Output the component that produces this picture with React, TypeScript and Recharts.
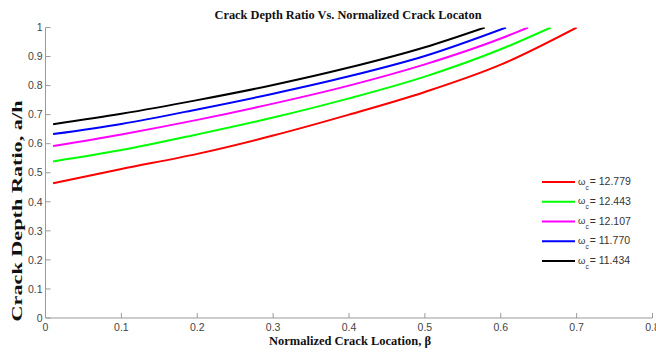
import React from 'react';
import { LineChart, Line, XAxis, YAxis, Legend } from 'recharts';

const xTicks = [0, 0.1, 0.2, 0.3, 0.4, 0.5, 0.6, 0.7, 0.8];
const yTicks = [0, 0.1, 0.2, 0.3, 0.4, 0.5, 0.6, 0.7, 0.8, 0.9, 1];

const omegaLabels = ['12.779', '12.443', '12.107', '11.770', '11.434'];
const seriesColors = ['#ff0000', '#00ff00', '#ff00ff', '#0000ff', '#000000'];

const betaRed = [0.01, 0.1, 0.2, 0.3, 0.4, 0.5, 0.6, 0.7];
const depthRed = [0.464, 0.513, 0.565, 0.628, 0.7, 0.778, 0.872, 1.0];

const betaGreen = [0.01, 0.1, 0.2, 0.3, 0.4, 0.5, 0.6, 0.666];
const depthGreen = [0.539, 0.578, 0.632, 0.69, 0.756, 0.831, 0.925, 1.0];

const betaMagenta = [0.01, 0.1, 0.2, 0.3, 0.4, 0.5, 0.6, 0.636];
const depthMagenta = [0.592, 0.632, 0.682, 0.738, 0.8, 0.873, 0.962, 1.0];

const betaBlue = [0.01, 0.1, 0.2, 0.3, 0.4, 0.5, 0.607];
const depthBlue = [0.633, 0.668, 0.718, 0.772, 0.832, 0.902, 1.0];

const betaBlack = [0.01, 0.1, 0.2, 0.3, 0.4, 0.5, 0.579];
const depthBlack = [0.667, 0.703, 0.75, 0.802, 0.862, 0.932, 1.0];

const zip = (xs: number[], ys: number[]) => xs.map((x, i) => ({ x, y: ys[i] }));

const series = [
  zip(betaRed, depthRed),
  zip(betaGreen, depthGreen),
  zip(betaMagenta, depthMagenta),
  zip(betaBlue, depthBlue),
  zip(betaBlack, depthBlack),
];

const tickFont = { fill: '#444', fontSize: 10.5, fontFamily: 'Liberation Sans, Arial, sans-serif' };
const axisColor = '#9a9a9a';
const sans = 'Liberation Sans, Arial, sans-serif';

const LegendContent = () => (
  <svg width={112} height={100} style={{ display: 'block' }}>
    {omegaLabels.map((label, i) => {
      const y = 10 + i * 19.75;
      return (
        <g key={label}>
          <line x1={4} x2={37} y1={y} y2={y} stroke={seriesColors[i]} strokeWidth={2} />
          <text x={40} y={y + 2.5} fontSize={10.5} fill="#333" fontFamily={sans}>
            <tspan fontSize={9.5}>ω</tspan>
            <tspan fontSize={6.5} dy={5}>c</tspan>
            <tspan dx={1} dy={-4.5}>{'= ' + label}</tspan>
          </text>
        </g>
      );
    })}
  </svg>
);

export default function App() {
  return (
    <div style={{ position: 'absolute', left: 0, top: 0, width: 656, height: 352, background: '#fff' }}>
      <LineChart
        width={656}
        height={352}
        margin={{ top: 27.5, right: 3.5, bottom: 4, left: 5.5 }}
      >
        <XAxis
          dataKey="x"
          type="number"
          domain={[0, 0.8]}
          ticks={xTicks}
          allowDataOverflow
          height={30}
          tickSize={-5}
          tickMargin={11}
          stroke={axisColor}
          tick={tickFont}
          interval={0}
        />
        <XAxis
          xAxisId="top"
          orientation="top"
          type="number"
          domain={[0, 0.8]}
          ticks={xTicks}
          allowDataOverflow
          height={0}
          tickSize={-5}
          tick={false}
          stroke={axisColor}
          interval={0}
        />
        <YAxis
          type="number"
          domain={[0, 1]}
          ticks={yTicks}
          allowDataOverflow
          width={40}
          tickSize={-5}
          tickMargin={8}
          stroke={axisColor}
          tick={tickFont}
          interval={0}
        />
        <YAxis
          yAxisId="right"
          orientation="right"
          type="number"
          domain={[0, 1]}
          ticks={yTicks}
          allowDataOverflow
          width={0}
          tickSize={-5}
          tick={false}
          stroke={axisColor}
          interval={0}
        />
        {series.map((d, i) => (
          <Line
            key={omegaLabels[i]}
            data={d}
            dataKey="y"
            name={omegaLabels[i]}
            type="monotone"
            stroke={seriesColors[i]}
            strokeWidth={2}
            dot={false}
            activeDot={false}
            isAnimationActive={false}
          />
        ))}
        <Legend
          layout="vertical"
          align="center"
          verticalAlign="middle"
          content={LegendContent}
          wrapperStyle={{ position: 'absolute', left: 538, top: 172, width: 112, height: 100 }}
        />
      </LineChart>
      <svg width={656} height={352} style={{ position: 'absolute', left: 0, top: 0, pointerEvents: 'none' }}>
        <text
          x={348}
          y={15}
          textAnchor="middle"
          dominantBaseline="central"
          fontFamily="Liberation Serif, Times New Roman, serif"
          fontWeight="bold"
          fontSize={12}
          textLength={267}
          lengthAdjust="spacingAndGlyphs"
          fill="#111"
        >
          Crack Depth Ratio Vs. Normalized Crack Locaton
        </text>
        <text
          x={350}
          y={340}
          textAnchor="middle"
          dominantBaseline="central"
          fontFamily="Liberation Serif, Times New Roman, serif"
          fontWeight="bold"
          fontSize={13}
          textLength={162}
          lengthAdjust="spacingAndGlyphs"
          fill="#111"
        >
          Normalized Crack Location, β
        </text>
        <text
          x={17}
          y={211}
          transform="rotate(-90 17 211)"
          textAnchor="middle"
          dominantBaseline="central"
          fontFamily="Liberation Serif, Times New Roman, serif"
          fontWeight="bold"
          fontSize={15}
          textLength={221}
          lengthAdjust="spacingAndGlyphs"
          fill="#111"
        >
          Crack Depth Ratio, a/h
        </text>
      </svg>
    </div>
  );
}
